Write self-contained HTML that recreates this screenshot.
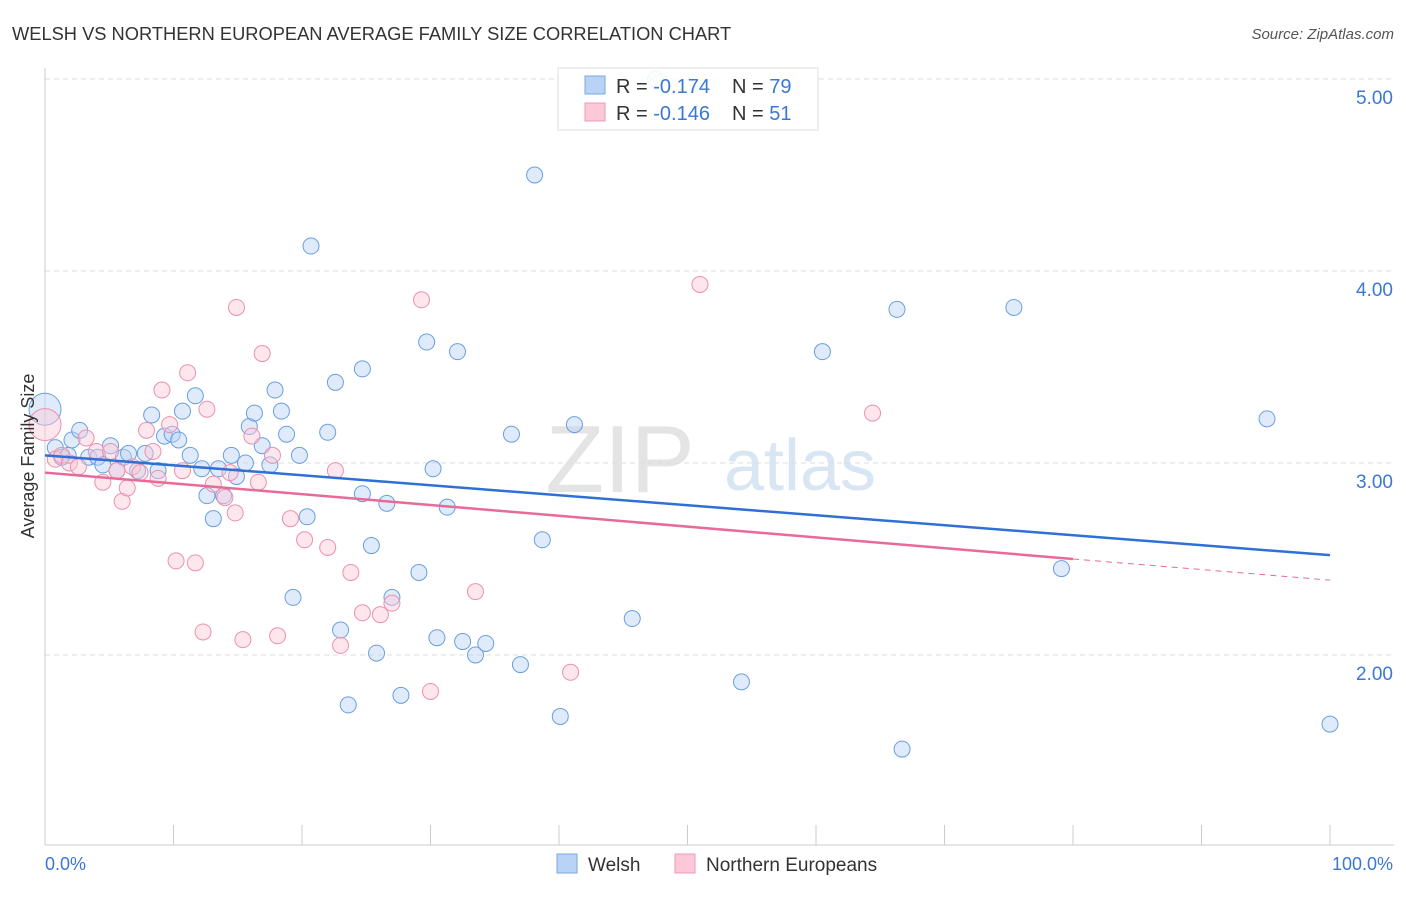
<!DOCTYPE html>
<html><head><meta charset="utf-8"><style>
body{margin:0;background:#fff;font-family:"Liberation Sans",sans-serif;}
svg text{font-family:"Liberation Sans",sans-serif;}
</style></head><body>
<svg id="chart" width="1406" height="892">
<text x="12" y="40" font-size="18.3" fill="#333">WELSH VS NORTHERN EUROPEAN AVERAGE FAMILY SIZE CORRELATION CHART</text>
<text x="1394" y="39" font-size="15" fill="#555" font-style="italic" text-anchor="end">Source: ZipAtlas.com</text>
<text x="620" y="492" font-size="96" fill="#e4e4e4" font-family="Liberation Serif" text-anchor="middle">ZIP</text>
<text x="800" y="490" font-size="72" fill="#d8e6f4" text-anchor="middle">atlas</text>
<g id="grid"></g><g id="axes"></g><g id="pts"></g><g id="lines"></g>
<text transform="translate(34,456) rotate(-90)" font-size="18" fill="#333" text-anchor="middle">Average Family Size</text>
<text x="45" y="870" font-size="18" fill="#3a78d4">0.0%</text>
<text x="1393" y="870" font-size="18" fill="#3a78d4" text-anchor="end">100.0%</text>
<g>
<rect x="558" y="68" width="260" height="62" fill="#fff" fill-opacity="0.9" stroke="#ddd"/>
<rect x="585" y="76" width="20" height="18" fill="#b8d3f5" stroke="#7aa8e6"/>
<rect x="585" y="103" width="20" height="18" fill="#fdc8d8" stroke="#f098b4"/>
<text x="616" y="93" font-size="20" fill="#333">R = <tspan fill="#3a78d4">-0.174</tspan></text>
<text x="732" y="93" font-size="20" fill="#333">N = <tspan fill="#3a78d4">79</tspan></text>
<text x="616" y="120" font-size="20" fill="#333">R = <tspan fill="#3a78d4">-0.146</tspan></text>
<text x="732" y="120" font-size="20" fill="#333">N = <tspan fill="#3a78d4"> 51</tspan></text>
</g>
<g>
<rect x="557" y="854" width="20" height="19" fill="#b8d3f5" stroke="#7aa8e6"/>
<text x="588" y="871" font-size="19" fill="#333">Welsh</text>
<rect x="675" y="854" width="20" height="19" fill="#fdc8d8" stroke="#f098b4"/>
<text x="706" y="871" font-size="19" fill="#333">Northern Europeans</text>
</g>
</svg>
<script>
const yTicks=[2,3,4,5];
const yTickLabels=["2.00","3.00","4.00","5.00"];
const welshX=[0,0.8,1.3,2.1,2.7,1.8,3.4,4.1,4.5,5.1,5.6,6.1,6.5,7.2,7.8,8.3,8.8,9.3,9.9,10.4,10.7,11.3,11.7,12.2,12.6,13.1,13.5,13.9,14.5,14.9,15.6,15.9,16.3,16.9,17.5,17.9,18.4,18.8,19.8,20.4,19.3,20.7,22,22.6,23,23.6,24.7,24.7,25.4,25.8,26.6,27,27.7,29.1,29.7,30.2,30.5,31.3,32.1,32.5,33.5,34.3,36.3,37,38.1,38.7,40.1,41.2,45.7,47.5,54.2,60.5,66.3,66.7,75.4,79.1,95.1,100];
const welshY=[3.28,3.08,3.03,3.12,3.17,3.04,3.03,3.03,2.99,3.09,2.96,3.03,3.05,2.96,3.05,3.25,2.96,3.14,3.15,3.12,3.27,3.04,3.35,2.97,2.83,2.71,2.97,2.83,3.04,2.93,3,3.19,3.26,3.09,2.99,3.38,3.27,3.15,3.04,2.72,2.3,4.13,3.16,3.42,2.13,1.74,3.49,2.84,2.57,2.01,2.79,2.3,1.79,2.43,3.63,2.97,2.09,2.77,3.58,2.07,2,2.06,3.15,1.95,4.5,2.6,1.68,3.2,2.19,5,1.86,3.58,3.8,1.51,3.81,2.45,3.23,1.64];
const nordX=[0,0.8,1.3,1.9,2.6,3.2,4,4.5,5.1,5.6,6,6.4,6.8,7.9,8.4,8.8,9.1,9.7,10.2,10.7,11.1,11.7,12.3,12.6,13.1,14,14.9,15.4,16.1,16.6,16.9,17.7,18.1,19.1,20.2,22,22.6,23,23.8,24.7,26.1,27,29.3,30,33.5,40.9,50.970,64.4,14.4,14.8,7.4];
const nordY=[3.2,3.02,3.04,3,2.98,3.13,3.06,2.9,3.06,2.96,2.8,2.87,2.98,3.17,3.06,2.92,3.38,3.2,2.49,2.96,3.47,2.48,2.12,3.28,2.89,2.82,3.81,2.08,3.14,2.9,3.57,3.04,2.1,2.71,2.6,2.56,2.96,2.05,2.43,2.22,2.21,2.27,3.85,1.81,2.33,1.91,3.93,3.26,2.95,2.74,2.95];
const ns="http://www.w3.org/2000/svg";
const X=v=>45+v/100*1285, Y=v=>79+(5-v)*192;
function mk(t,a,p){const e=document.createElementNS(ns,t);for(const k in a)e.setAttribute(k,a[k]);document.getElementById(p).appendChild(e);return e;}
yTicks.forEach((t,i)=>{
 const l=mk('line',{x1:45,x2:1394,y1:Y(t),y2:Y(t),stroke:'#ddd','stroke-dasharray':'5,4'},'grid');
 
 
 const tx=mk('text',{x:1393,y:Y(t)+25,'font-size':19,fill:'#3a78d4','text-anchor':'end'},'axes');
 tx.textContent=yTickLabels[i];
 
 
});
mk('line',{x1:45,x2:45,y1:68,y2:845,stroke:'#ccc'},'axes');
mk('line',{x1:45,x2:1394,y1:845,y2:845,stroke:'#ccc'},'axes');
for(let i=0;i<=10;i++){mk('line',{x1:X(i*10),x2:X(i*10),y1:825,y2:845,stroke:'#ccc'},'axes');}
function pts(xs,ys,fill,stroke,name){xs.forEach((x,i)=>{
 const c=mk('circle',{cx:X(x),cy:Y(ys[i]),r:i==0?16:8,fill:fill,'fill-opacity':0.45,stroke:stroke,'stroke-width':1},'pts');
 
 
});}
pts(welshX,welshY,'#b8d3f5','#6a9ee0','welsh-point');
pts(nordX,nordY,'#fdc8d8','#ec90ae','northern-european-point');
const blueLine=[0,3.04,100,2.52];
const pinkLine=[0,2.95,80,2.5,100,2.39];
let l=mk('line',{x1:X(blueLine[0]),y1:Y(blueLine[1]),x2:X(blueLine[2]),y2:Y(blueLine[3]),stroke:'#2f6fd6','stroke-width':2.5},'lines');


l=mk('line',{x1:X(pinkLine[0]),y1:Y(pinkLine[1]),x2:X(pinkLine[2]),y2:Y(pinkLine[3]),stroke:'#e86a98','stroke-width':2.5},'lines');


l=mk('line',{x1:X(pinkLine[2]),y1:Y(pinkLine[3]),x2:X(pinkLine[4]),y2:Y(pinkLine[5]),stroke:'#e86a98','stroke-width':1,'stroke-dasharray':'6,5'},'lines');


</script>
</body></html>
